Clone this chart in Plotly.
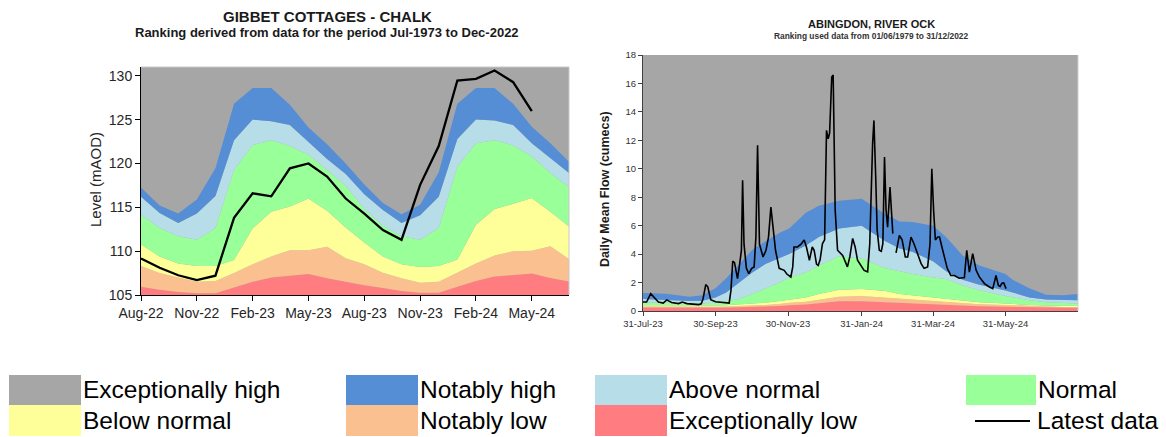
import plotly.graph_objects as go
import pandas as pd

W, H = 1166, 437
FONT = "Liberation Sans, Arial, sans-serif"

# ---------------- Left chart data (monthly) ----------------
months = ["Aug-22", "Sep-22", "Oct-22", "Nov-22", "Dec-22", "Jan-23", "Feb-23", "Mar-23",
          "Apr-23", "May-23", "Jun-23", "Jul-23", "Aug-23", "Sep-23", "Oct-23", "Nov-23",
          "Dec-23", "Jan-24", "Feb-24", "Mar-24", "Apr-24", "May-24", "Jun-24", "Jul-24"]
left_ticks = ["Aug-22", "Nov-22", "Feb-23", "May-23", "Aug-23", "Nov-23", "Feb-24", "May-24"]

gc_exc_low = [105.95, 105.6, 105.35, 105.2, 105.2, 105.85, 106.5, 107.0, 107.2, 107.4, 106.9, 106.5,
              106.1, 105.8, 105.45, 105.25, 105.25, 105.95, 106.6, 107.1, 107.3, 107.45, 106.95, 106.55]
gc_not_low = [108.3, 107.5, 107.0, 106.5, 106.6, 107.5, 108.5, 109.4, 110.1, 110.1, 110.5, 109.2,
              108.5, 107.55, 106.9, 106.4, 106.5, 107.55, 108.6, 109.5, 110.0, 110.05, 110.55, 109.1]
gc_below = [110.75, 109.4, 108.6, 108.3, 108.3, 109.0, 112.6, 114.5, 115.1, 116.0, 114.6, 112.7,
            111.0, 109.4, 108.5, 108.2, 108.3, 109.05, 113.0, 114.8, 115.4, 116.05, 114.5, 112.8]
gc_normal = [114.15, 112.65, 111.7, 111.3, 112.65, 119.25, 122.1, 122.65, 122.0, 121.0, 119.25, 117.45,
             114.8, 112.9, 111.7, 111.3, 112.65, 119.6, 122.3, 122.65, 122.05, 120.8, 118.9, 117.3]
gc_above = [116.2, 114.35, 113.2, 114.3, 116.3, 122.65, 125.0, 124.8, 124.4, 122.4, 120.5, 118.8,
            116.5, 114.7, 113.2, 114.1, 116.2, 122.8, 125.0, 124.9, 124.4, 122.3, 120.6, 118.9]
gc_not_high = [117.25, 115.2, 114.3, 115.9, 119.45, 126.8, 128.6, 128.6, 126.7, 124.1, 122.2, 120.0,
               117.6, 115.5, 114.2, 115.3, 119.0, 126.8, 128.6, 128.6, 126.8, 124.2, 122.3, 120.2]
gc_latest = [109.17, 108.1, 107.25, 106.7, 107.2, 113.8, 116.6, 116.25, 119.45, 120.0, 118.5, 116.0,
             114.27, 112.4, 111.3, 117.56, 121.98, 129.46, 129.65, 130.6, 129.27, 125.98, None, None]

# ---------------- Right chart data (daily flow) ----------------
flow_start = "2023-07-31"
band_day = [0, 19, 39, 50, 61, 70, 81, 92, 103, 115, 123, 137, 148, 165, 184, 193, 204, 216,
            227, 244, 255, 269, 283, 305, 311, 325, 339, 353, 366]
ab_not_high = [1.27, 1.22, 1.00, 1.10, 1.60, 2.30, 3.30, 4.30, 4.90, 5.50, 5.80, 6.90, 7.40, 7.75,
               7.90, 7.40, 6.80, 6.30, 6.25, 6.00, 5.20, 3.90, 3.20, 2.60, 2.20, 1.60, 1.15, 1.10, 1.20]
ab_above = [0.85, 0.78, 0.70, 0.72, 0.95, 1.30, 2.00, 2.70, 3.30, 3.70, 4.00, 4.60, 5.20, 5.80,
            6.00, 5.50, 4.90, 4.40, 4.15, 3.50, 2.80, 2.20, 1.85, 1.45, 1.30, 0.95, 0.80, 0.75, 0.75]
ab_normal = [0.60, 0.55, 0.50, 0.52, 0.58, 0.68, 0.85, 1.20, 1.60, 2.00, 2.35, 2.70, 3.20, 3.85,
             3.70, 3.40, 3.00, 2.80, 2.60, 2.35, 2.25, 1.80, 1.46, 1.05, 0.95, 0.75, 0.62, 0.55, 0.52]
ab_below = [0.40, 0.38, 0.36, 0.36, 0.38, 0.40, 0.45, 0.50, 0.58, 0.70, 0.80, 0.95, 1.20, 1.50,
            1.55, 1.50, 1.40, 1.20, 1.10, 0.95, 0.85, 0.72, 0.62, 0.52, 0.48, 0.42, 0.38, 0.36, 0.35]
ab_not_low = [0.32, 0.30, 0.29, 0.29, 0.30, 0.32, 0.34, 0.38, 0.42, 0.50, 0.58, 0.65, 0.80, 1.00,
              1.05, 1.00, 0.95, 0.85, 0.80, 0.70, 0.65, 0.55, 0.48, 0.42, 0.40, 0.35, 0.31, 0.29, 0.28]
ab_exc_low = [0.25, 0.24, 0.23, 0.23, 0.24, 0.25, 0.26, 0.28, 0.32, 0.36, 0.40, 0.45, 0.55, 0.68,
              0.68, 0.65, 0.62, 0.55, 0.50, 0.45, 0.42, 0.38, 0.34, 0.30, 0.29, 0.27, 0.24, 0.23, 0.22]

flow_day = [0, 3, 6.5, 9.5, 13, 17, 20, 24, 30, 33, 37, 47, 49, 50.5, 52.8, 54.5, 57, 61, 66, 70,
            72.5, 74, 75.5, 77, 78, 79.5, 81, 82.8, 83.8, 85, 87, 89, 91.5, 93.5, 95, 96.4, 98, 101,
            103.5, 105.6, 107.6, 109.5, 111.5, 114.6, 118.8, 121, 124.4, 126, 127, 130, 133, 135.6,
            137.5, 140, 142.4, 144, 146, 147.4, 149, 151, 152.8, 154.4, 155.8, 157, 158.8, 160,
            161.7, 163.7, 168, 172, 174, 176.4, 178.5, 180.5, 186, 189, 190.8, 193.2, 194.3, 195.8,
            197, 198.8, 200.5, 201.8, 203.2, 204.5, 205.8, 207.8, 209, 210.2, 211.5, 212.9, 215.7,
            218, 220.7, 222.7, 225.5, 228, 231, 234, 236.5, 239.5, 241.5, 243, 244.5, 246, 248,
            249.5, 251.5, 253.6, 256, 259, 262, 266, 270.4, 272.4, 273.5, 274.6, 277.4, 280.3, 283,
            287.3, 291.5, 294.3, 297, 299, 300.5, 302, 303.5, 305.5]
flow_val = [0.63, 0.63, 1.22, 0.95, 0.63, 0.56, 0.78, 0.60, 0.52, 0.63, 0.52, 0.45, 0.50, 0.85,
            1.86, 1.70, 0.80, 0.65, 0.60, 0.56, 0.56, 1.45, 3.50, 3.40, 3.00, 2.28, 3.10, 4.26, 9.19,
            4.70, 3.00, 2.63, 3.00, 3.10, 5.20, 11.65, 4.70, 3.80, 4.27, 5.20, 7.30, 5.90, 4.27, 3.00,
            2.86, 2.60, 2.39, 3.10, 4.50, 4.50, 4.70, 5.00, 4.50, 3.57, 4.50, 4.27, 3.30, 3.20, 3.60,
            4.74, 5.00, 12.70, 12.10, 12.50, 16.45, 16.60, 7.10, 4.27, 3.90, 3.10, 3.80, 5.10, 4.50,
            3.57, 2.86, 2.75, 4.73, 11.80, 13.40, 9.40, 5.70, 4.27, 4.20, 4.73, 10.83, 7.10, 5.90,
            8.72, 7.10, 5.44, None, 4.08, 5.32, 5.00, 3.80, 3.80, 5.20, 4.73, 4.04, 3.33, 3.00, 3.10,
            4.73, 10.00, 7.10, 5.00, 5.20, 5.20, 4.50, 3.80, 3.00, 2.50, 2.50, 2.30, 2.35, 4.27, 3.30,
            2.74, 4.04, 2.86, 2.40, 1.93, 1.69, 1.57, 2.50, 1.80, 1.73, 1.95, 1.97, 1.57]
right_tickvals = ["2023-07-31", "2023-09-30", "2023-11-30", "2024-01-31", "2024-03-31", "2024-05-31"]

# ---------------- Styles ----------------
C_GRAY = "#a6a6a6"
C_NHIGH = "#558ed5"
C_ABOVE = "#b7dee8"
C_NORMAL = "#99ff99"
C_BELOW = "#ffff99"
C_NLOW = "#fac090"
C_ELOW = "#ff7c80"

band_order = [("elow", C_ELOW), ("nlow", C_NLOW), ("below", C_BELOW),
              ("normal", C_NORMAL), ("above", C_ABOVE), ("nhigh", C_NHIGH)]

left_bands = {"elow": gc_exc_low, "nlow": gc_not_low, "below": gc_below,
              "normal": gc_normal, "above": gc_above, "nhigh": gc_not_high}
right_bands = {"elow": ab_exc_low, "nlow": ab_not_low, "below": ab_below,
               "normal": ab_normal, "above": ab_above, "nhigh": ab_not_high}

base = pd.Timestamp(flow_start)
band_dates = [base + pd.Timedelta(days=d) for d in band_day]
flow_dates = [base + pd.Timedelta(days=d) for d in flow_day]

fig = go.Figure()

for i, (key, col) in enumerate(band_order):
    fig.add_trace(go.Scatter(x=months, y=left_bands[key], mode="lines",
                             line=dict(width=0, color=col), fillcolor=col,
                             fill="tozeroy" if i == 0 else "tonexty",
                             xaxis="x", yaxis="y", showlegend=False, hoverinfo="skip"))
fig.add_trace(go.Scatter(x=months, y=gc_latest, mode="lines",
                         line=dict(width=2.3, color="black"),
                         xaxis="x", yaxis="y", showlegend=False))

for i, (key, col) in enumerate(band_order):
    fig.add_trace(go.Scatter(x=band_dates, y=right_bands[key], mode="lines",
                             line=dict(width=0, color=col), fillcolor=col,
                             fill="tozeroy" if i == 0 else "tonexty",
                             xaxis="x2", yaxis="y2", showlegend=False, hoverinfo="skip"))
fig.add_trace(go.Scatter(x=flow_dates, y=flow_val, mode="lines",
                         line=dict(width=1.6, color="black"),
                         xaxis="x2", yaxis="y2", showlegend=False))


def fx(px):
    return px / W


def fy(py):
    return 1 - py / H


fig.update_layout(
    template="none",
    width=W, height=H, margin=dict(l=0, r=0, t=0, b=0, pad=0, autoexpand=False),
    paper_bgcolor="white", plot_bgcolor=C_GRAY, showlegend=False,
    font=dict(family=FONT, color="#1a1a1a"),
    xaxis=dict(domain=[fx(141), fx(569)], type="category", range=[0, 23], automargin=False,
               tickvals=left_ticks, ticktext=left_ticks, showgrid=False, zeroline=False,
               showline=True, linecolor="black", linewidth=1,
               ticks="outside", ticklen=5, tickcolor="black",
               tickfont=dict(size=14, color="#262626"), anchor="y"),
    yaxis=dict(domain=[fy(295), fy(67)], range=[105, 131], tickvals=[105, 110, 115, 120, 125, 130],
               showgrid=False, zeroline=False, showline=True, linecolor="black", linewidth=1,
               ticks="outside", ticklen=5, tickcolor="black", automargin=False,
               tickfont=dict(size=14, color="#262626"), anchor="x"),
    xaxis2=dict(domain=[fx(643), fx(1078)], type="date", range=["2023-07-31", "2024-07-31"],
                tickvals=right_tickvals, tickformat="%d-%b-%y", showgrid=False, zeroline=False,
                showline=True, linecolor="#404040", linewidth=1, automargin=False,
                ticks="outside", ticklen=4, tickcolor="#404040",
                tickfont=dict(size=9.5, color="#333333"), anchor="y2"),
    yaxis2=dict(domain=[fy(311), fy(55)], range=[0, 18], dtick=2,
                showgrid=False, zeroline=False, showline=True, linecolor="#404040", linewidth=1,
                ticks="outside", ticklen=4, tickcolor="#404040", automargin=False,
                tickfont=dict(size=9.5, color="#333333"), anchor="x2"),
)

shapes = [
    dict(type="line", xref="x domain", yref="y domain", x0=0, x1=1, y0=1, y1=1,
         line=dict(color="#c8c8c8", width=1)),
    dict(type="line", xref="x domain", yref="y domain", x0=1, x1=1, y0=0, y1=1,
         line=dict(color="#c8c8c8", width=1)),
    dict(type="line", xref="x2 domain", yref="y2 domain", x0=1, x1=1, y0=0, y1=1,
         line=dict(color="#d0d0d0", width=1)),
]

annotations = [
    dict(text="<b>GIBBET COTTAGES - CHALK</b>", x=fx(327), y=fy(17), xref="paper", yref="paper",
         showarrow=False, xanchor="center", yanchor="middle", font=dict(size=15, color="#1a1a1a")),
    dict(text="<b>Ranking derived from data for the period Jul-1973 to Dec-2022</b>", x=fx(327), y=fy(33),
         xref="paper", yref="paper", showarrow=False, xanchor="center", yanchor="middle",
         font=dict(size=13, color="#1a1a1a")),
    dict(text="Level (mAOD)", x=fx(95), y=fy(180), xref="paper", yref="paper", textangle=-90,
         showarrow=False, xanchor="center", yanchor="middle", font=dict(size=15, color="#262626")),
    dict(text="<b>ABINGDON, RIVER OCK</b>", x=fx(871), y=fy(24), xref="paper", yref="paper",
         showarrow=False, xanchor="center", yanchor="middle", font=dict(size=11, color="#1a1a1a")),
    dict(text="<b>Ranking used data from 01/06/1979 to 31/12/2022</b>", x=fx(871), y=fy(36),
         xref="paper", yref="paper", showarrow=False, xanchor="center", yanchor="middle",
         font=dict(size=8.4, color="#333333")),
    dict(text="<b>Daily Mean Flow (cumecs)</b>", x=fx(605), y=fy(189), xref="paper", yref="paper",
         textangle=-90, showarrow=False, xanchor="center", yanchor="middle",
         font=dict(size=12.5, color="#1a1a1a")),
]

# ---------------- Legend (drawn as shapes + text) ----------------
legend_items = [
    ("Exceptionally high", C_GRAY, 9, 81, 375, 405),
    ("Notably high", C_NHIGH, 346, 418, 375, 405),
    ("Above normal", C_ABOVE, 595, 667, 375, 405),
    ("Normal", C_NORMAL, 966, 1036, 375, 405),
    ("Below normal", C_BELOW, 9, 81, 405, 436),
    ("Notably low", C_NLOW, 346, 418, 405, 436),
    ("Exceptionally low", C_ELOW, 595, 667, 405, 436),
]
for label, col, x0, x1, y0, y1 in legend_items:
    shapes.append(dict(type="rect", xref="paper", yref="paper", x0=fx(x0), x1=fx(x1),
                       y0=fy(y1), y1=fy(y0), fillcolor=col, line=dict(width=0), layer="above"))
    annotations.append(dict(text=label, x=fx(x1), y=fy((y0 + y1) / 2 - 0.5), xref="paper",
                            yref="paper", showarrow=False, xanchor="left", yanchor="middle",
                            font=dict(size=24.5, color="black")))
shapes.append(dict(type="line", xref="paper", yref="paper", x0=fx(975), x1=fx(1030),
                   y0=fy(421), y1=fy(421), line=dict(color="black", width=2)))
annotations.append(dict(text="Latest data", x=fx(1035), y=fy(420.5), xref="paper", yref="paper",
                        showarrow=False, xanchor="left", yanchor="middle",
                        font=dict(size=24.5, color="black")))

fig.update_layout(shapes=shapes, annotations=annotations)
fig.write_html("out.html")
